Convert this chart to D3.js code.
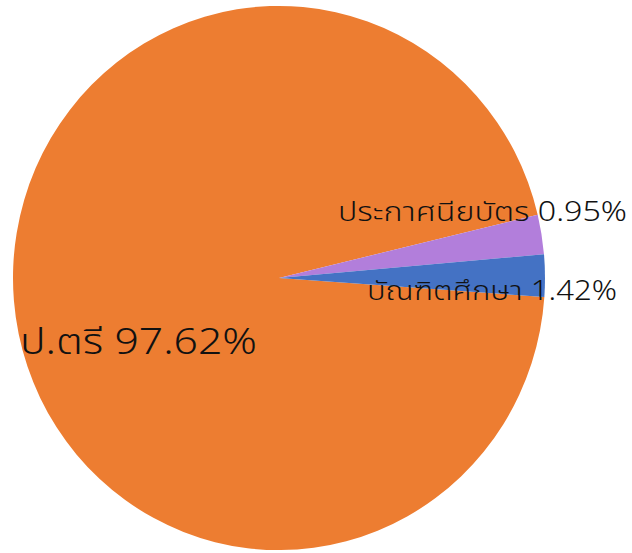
<!DOCTYPE html>
<html>
<head>
<meta charset="utf-8">
<script src="https://cdn.jsdelivr.net/npm/d3@7"></script>
<style>
  html, body { margin: 0; padding: 0; background: #fff; }
  svg { display: block; }
  text { font-family: "Noto Sans Thai", "Noto Sans", "DejaVu Sans", sans-serif; fill: #111; font-weight: 300; }
</style>
</head>
<body>
<script>
// Categories and displayed percentages (labels)
const categories = ["ป.ตรี", "ประกาศนียบัตร", "บัณฑิตศึกษา"];
const percentLabels = ["97.62%", "0.95%", "1.42%"];
const sliceValues = [95.15, 2.35, 2.5];
const colors = ["#ED7D31", "#B27EDB", "#4472C4"];

const W = 632, H = 553;
const cx = 279, cy = 278, r = 266, yScale = 1.023;

const svg = d3.select("body").append("svg").attr("width", W).attr("height", H);

const pie = d3.pie().sort(null).value(d => d)
  .startAngle(94 * Math.PI / 180).endAngle(94 * Math.PI / 180 + 2 * Math.PI);
const arc = d3.arc().innerRadius(0).outerRadius(r);

const g = svg.append("g").attr("transform", `translate(${cx},${cy}) scale(1,${yScale})`);
g.selectAll("path").data(pie(sliceValues)).join("path")
  .attr("d", arc).attr("fill", (d, i) => colors[i]);

const labelPos = [
  { x: 20, y: 354, size: 36, w: 237 },
  { x: 338, y: 221, size: 27, w: 289 },
  { x: 367, y: 300, size: 27, w: 250 }
];
svg.selectAll("text.lbl").data(categories).join("text")
  .attr("class", "lbl")
  .attr("x", (d, i) => labelPos[i].x)
  .attr("y", (d, i) => labelPos[i].y)
  .attr("font-size", (d, i) => labelPos[i].size)
  .attr("textLength", (d, i) => labelPos[i].w)
  .attr("lengthAdjust", "spacingAndGlyphs")
  .text((d, i) => d + " " + percentLabels[i]);
</script>
</body>
</html>
